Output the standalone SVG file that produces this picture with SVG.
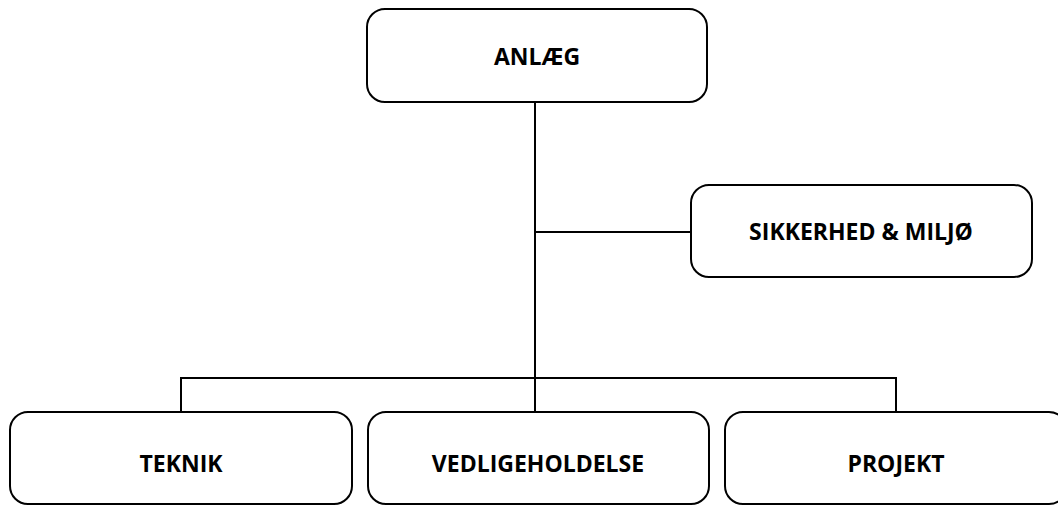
<svg xmlns="http://www.w3.org/2000/svg" width="1058" height="506" viewBox="0 0 1058 506">
<style>
.box{fill:#fff;stroke:#000;stroke-width:2}
.lbl{font-family:"Open Sans","Liberation Sans",sans-serif;font-weight:bold;font-size:23px;fill:#000;text-anchor:middle;dominant-baseline:central}
.con{stroke:#000;stroke-width:2;fill:none}
</style>
<rect width="1058" height="506" fill="#fff"/>
<g id="connectors">
<line class="con" x1="535" y1="102" x2="535" y2="378"/>
<line class="con" x1="535" y1="232" x2="691" y2="232"/>
<polyline class="con" points="181,412 181,378 896,378 896,412"/>
<line class="con" x1="535" y1="378" x2="535" y2="412"/>
</g>
<g id="anlaeg">
<rect class="box" x="367" y="9" width="340" height="93" rx="18"/>
<text class="lbl" x="537" y="56">ANLÆG</text>
</g>
<g id="sikkerhed">
<rect class="box" x="691" y="185" width="341" height="92" rx="18"/>
<text class="lbl" x="861" y="231">SIKKERHED &amp; MILJØ</text>
</g>
<g id="teknik">
<rect class="box" x="10" y="412" width="342" height="92" rx="18"/>
<text class="lbl" x="181" y="463">TEKNIK</text>
</g>
<g id="vedligeholdelse">
<rect class="box" x="368" y="412" width="341" height="92" rx="18"/>
<text class="lbl" x="538" y="463">VEDLIGEHOLDELSE</text>
</g>
<g id="projekt">
<rect class="box" x="725" y="412" width="342" height="92" rx="18"/>
<text class="lbl" x="896" y="463">PROJEKT</text>
</g>
</svg>
